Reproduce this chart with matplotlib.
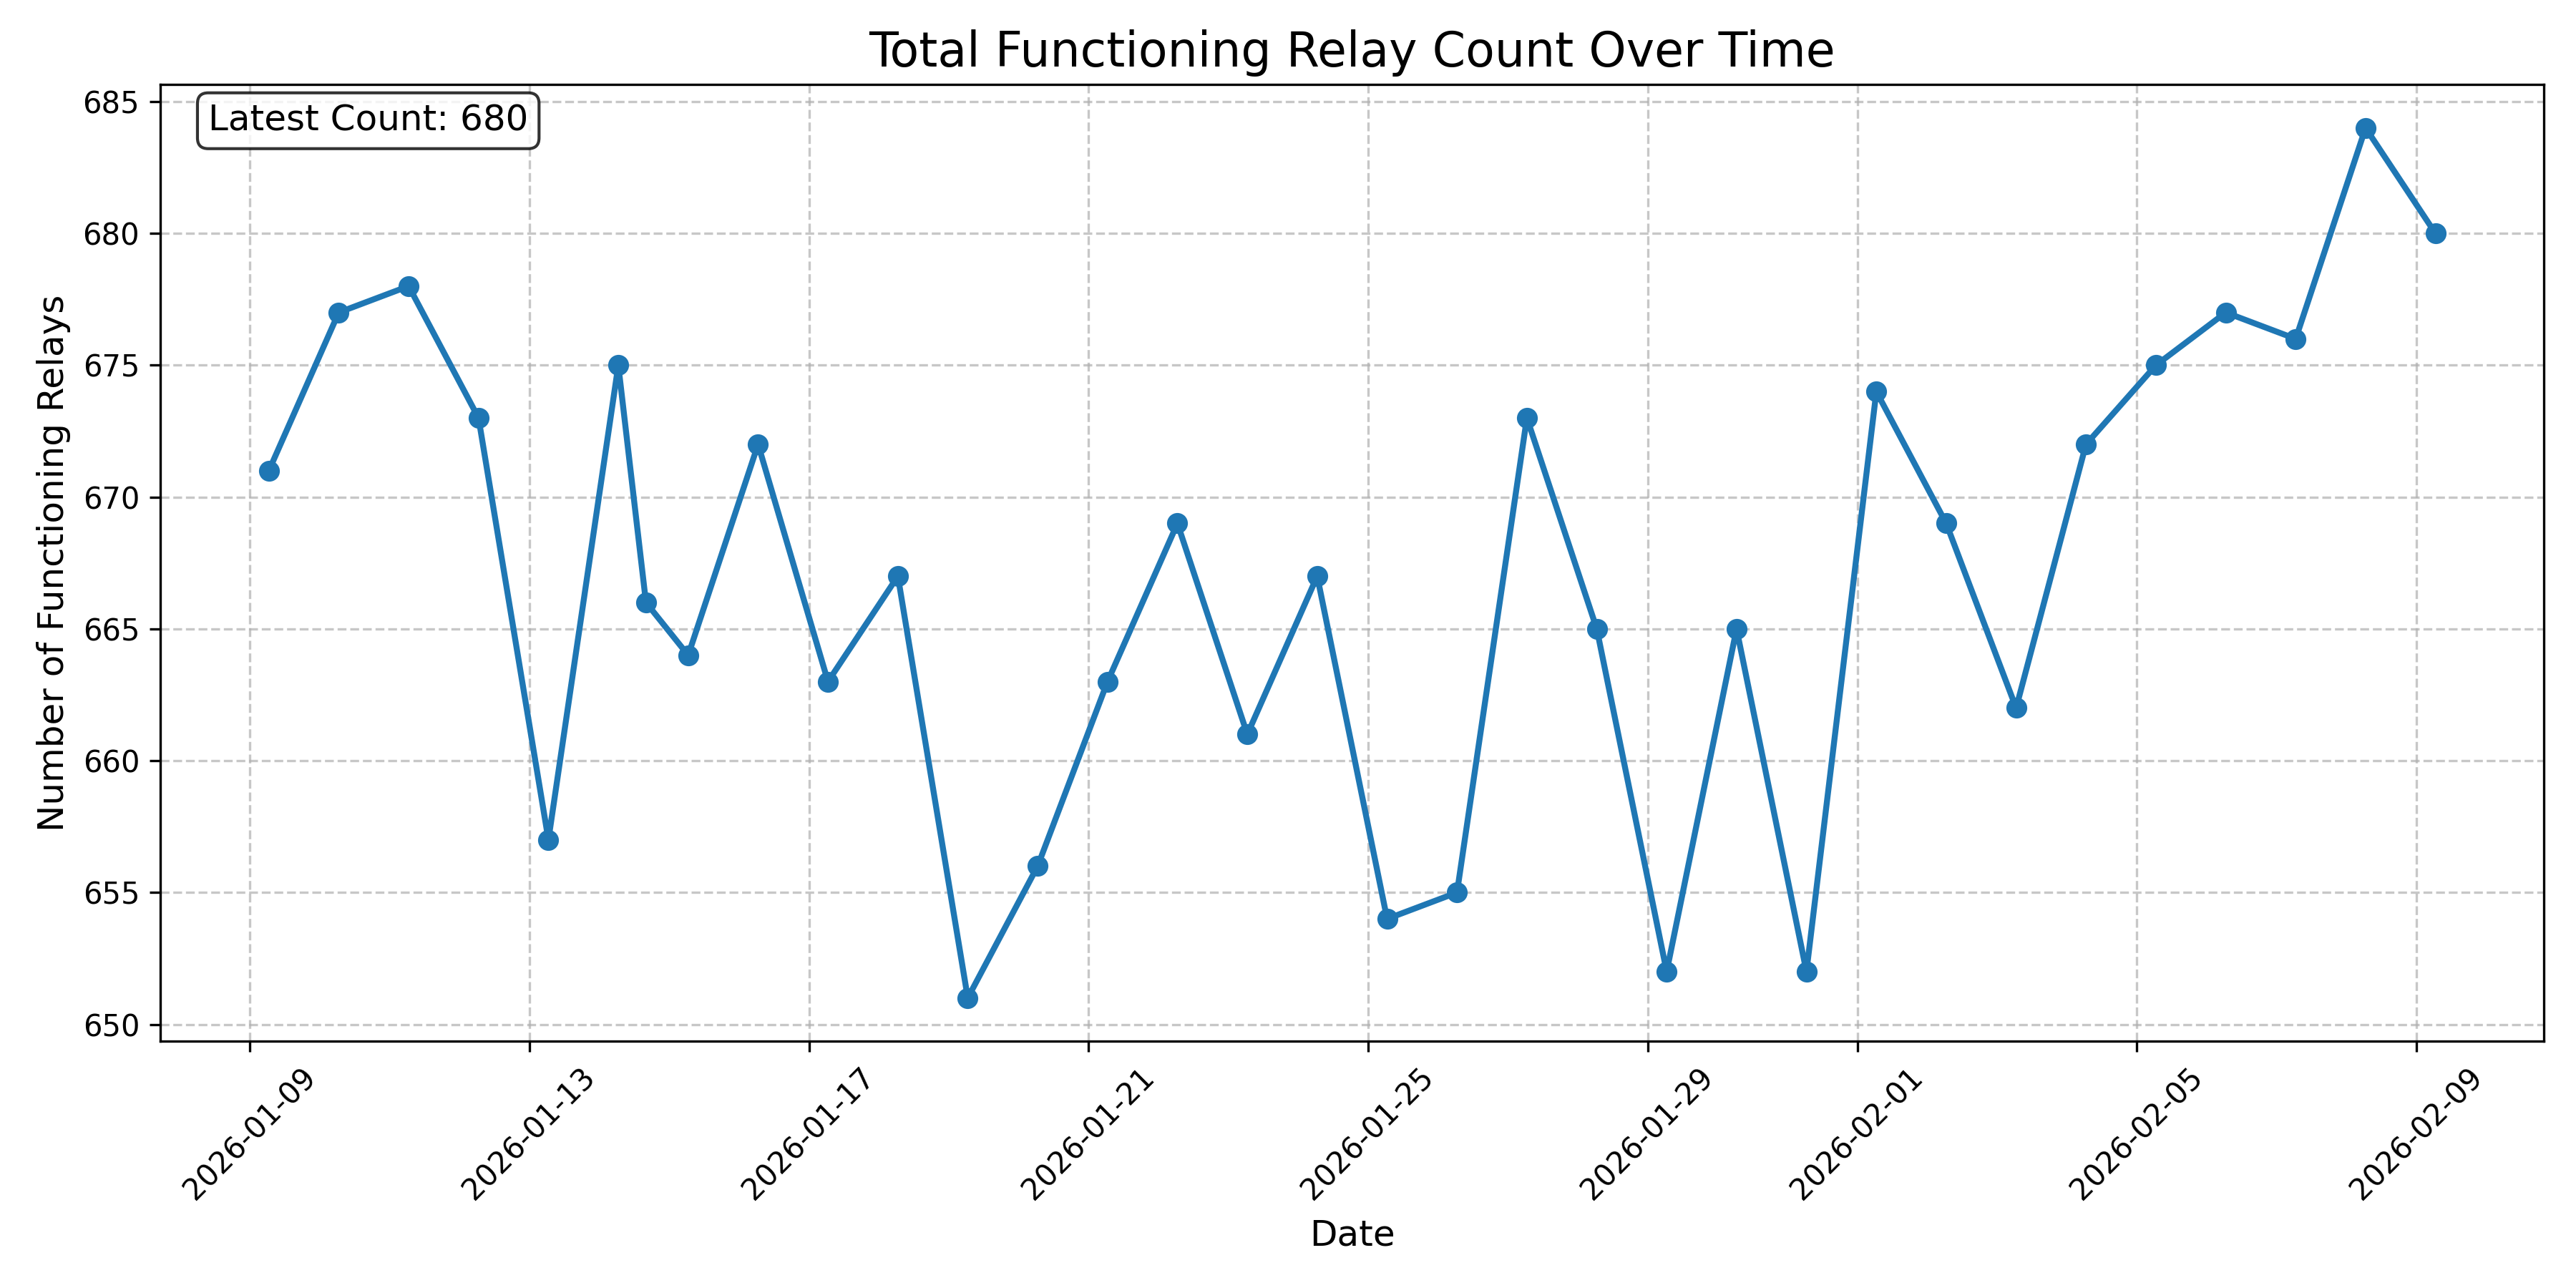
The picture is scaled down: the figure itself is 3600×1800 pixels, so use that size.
import pandas as pd
import matplotlib
matplotlib.use("Agg")
import matplotlib.pyplot as plt
import matplotlib.dates as mdates

# Snapshot times (one per day around 06:30, plus an extra afternoon reading on 01-14)
timestamps = [
    "2026-01-09 06:30", "2026-01-10 06:30", "2026-01-11 06:30", "2026-01-12 06:30",
    "2026-01-13 06:30", "2026-01-14 06:30", "2026-01-14 16:00", "2026-01-15 06:30",
    "2026-01-16 06:30", "2026-01-17 06:30", "2026-01-18 06:30", "2026-01-19 06:30",
    "2026-01-20 06:30", "2026-01-21 06:30", "2026-01-22 06:30", "2026-01-23 06:30",
    "2026-01-24 06:30", "2026-01-25 06:30", "2026-01-26 06:30", "2026-01-27 06:30",
    "2026-01-28 06:30", "2026-01-29 06:30", "2026-01-30 06:30", "2026-01-31 06:30",
    "2026-02-01 06:30", "2026-02-02 06:30", "2026-02-03 06:30", "2026-02-04 06:30",
    "2026-02-05 06:30", "2026-02-06 06:30", "2026-02-07 06:30", "2026-02-08 06:30",
    "2026-02-09 06:30",
]
relay_counts = [
    671, 677, 678, 673, 657, 675, 666, 664, 672, 663, 667, 651, 656, 663, 669, 661,
    667, 654, 655, 673, 665, 652, 665, 652, 674, 669, 662, 672, 675, 677, 676, 684,
    680,
]

dates = pd.to_datetime(timestamps)

fig, ax = plt.subplots(figsize=(12, 6))
ax.plot(dates, relay_counts, marker="o", linewidth=2, markersize=6, color="#1f77b4")

ax.set_title("Total Functioning Relay Count Over Time", fontsize=16)
ax.set_xlabel("Date", fontsize=12)
ax.set_ylabel("Number of Functioning Relays", fontsize=12)
ax.grid(True, linestyle="--", alpha=0.7)

ax.xaxis.set_major_formatter(mdates.DateFormatter("%Y-%m-%d"))
plt.setp(ax.get_xticklabels(), rotation=45)

ax.text(
    0.02, 0.98, f"Latest Count: {relay_counts[-1]}",
    transform=ax.transAxes, fontsize=12, verticalalignment="top",
    bbox=dict(boxstyle="round", facecolor="white", alpha=0.8),
)

plt.tight_layout()
plt.savefig("out.png", dpi=300)
